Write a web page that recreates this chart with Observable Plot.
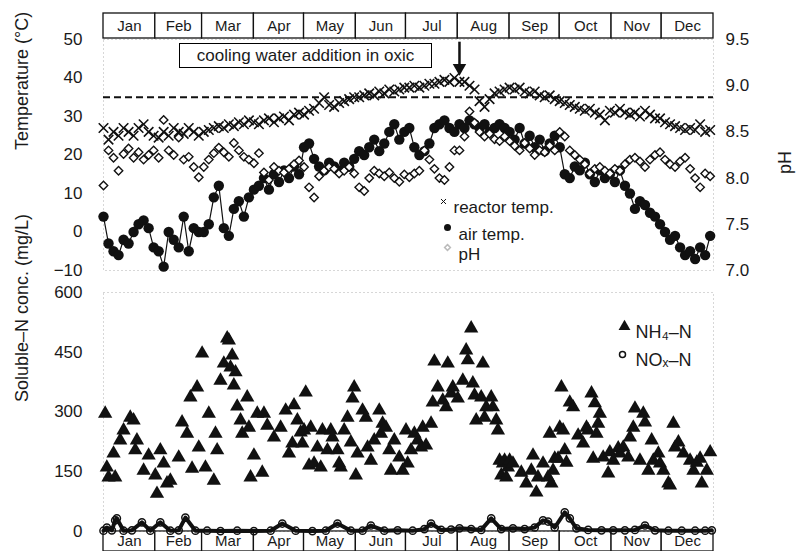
<!DOCTYPE html>
<html>
<head>
<meta charset="utf-8">
<script src="https://cdn.jsdelivr.net/npm/d3@7"></script>
<script src="https://cdn.jsdelivr.net/npm/@observablehq/plot@0.6"></script>
<style>
  html, body { margin: 0; padding: 0; background: white; }
  #chart { position: relative; width: 798px; height: 551px; overflow: hidden; background: white;
           font-family: "Liberation Sans", Arial, sans-serif; color: #1a1a1a; }
  #chart svg { position: absolute; left: 0; }
  .note { position: absolute; left: 179px; top: 43px; width: 253px; height: 25px; box-sizing: border-box;
          border: 1.3px solid #000; font-size: 17px; line-height: 23px; text-align: center; background: white; }
</style>
</head>
<body>
<div id="chart"></div>
<script>
// ---------- data ----------
const monthNames = ["Jan","Feb","Mar","Apr","May","Jun","Jul","Aug","Sep","Oct","Nov","Dec"];
const monthStarts = [0,31,59,90,120,151,181,212,243,273,304,334,365];

// daily series sampled every 3rd day (day 0 .. 363)
const sampleDays = d3.range(0, 366, 3);

const reactorTemp = [
  27,24,26,25,27,26,25,27,28,26,25,            // Jan
  24.5,26,25,27,26,25.5,27,26,25,              // Feb
  26,26.5,27,27.5,27,28,27.5,28.5,28,29,28.5,  // Mar
  28,29,29.5,28.5,29.5,30,29,30.5,31,30.5,     // Apr
  31.5,32,33.5,35,33,32.5,33.5,34,34.5,35,     // May
  35,35.5,36,35.5,36.5,36,37,36.5,37,37.5,     // Jun
  37.5,38,37.5,38,38.5,38.5,39,39.5,39,40,     // Jul
  39,39,38,37,34,32.5,34.5,36,36.5,37,         // Aug
  37.5,37,37.5,36.5,36,36.5,35.5,35,35.5,34.5, // Sep
  34,33.5,33,32.5,32,31.5,32,31,30.5,29,       // Oct
  31.5,31,32,31,30.5,31,30,31.5,30.5,29.5,     // Nov
  29.5,28.5,28,27.5,27,26.5,27,26.5,28,26,26.5 // Dec
];

const airTemp = [
  4,-3,-5,-6,-2,-3,0,2,3,1,-4,
  -5,-9,0,-2,-4,4,-5,1,0,
  0,2,9,12,1,-1,6,8,4,9,11,
  12,14,11,15,13,16,14,17,15,22,
  23,19,17,16,18,17,16,18,17,19,
  21,20,22,24,21,23,26,28,24,26,
  27,22,20,21,23,27,28,29,27,26,
  28,27,29,28,27,28,26,27,28,27,
  26,24,27,23,25,22,24,21,23,25,
  22,15,14,17,16,18,15,13,16,14,
  15,13,16,12,10,6,8,7,5,4,
  2,0,-2,-1,-4,-6,-5,-7,-4,-6,-1
];

const pHValues = [
  7.92,8.3,8.22,8.08,8.26,8.32,8.22,8.28,8.2,8.25,8.3,
  8.22,8.63,8.3,8.25,8.44,8.2,8.23,8.12,8.01,
  8.12,8.2,8.27,8.33,8.28,8.23,8.38,8.3,8.23,8.2,8.16,
  8.27,8.06,7.98,8.12,8.08,8.06,8.1,8.15,8.19,8.12,
  7.9,7.79,8.02,8.08,8.12,8.1,8.05,8.08,8.12,8.05,
  7.9,7.86,8.0,8.08,8.05,8.02,8.06,8.0,7.96,8.04,
  8.01,8.05,8.08,8.3,8.2,8.1,8.0,7.98,8.12,8.3,
  8.3,8.45,8.72,8.6,8.5,8.45,8.48,8.42,8.4,8.45,
  8.4,8.35,8.3,8.38,8.32,8.25,8.3,8.28,8.35,8.3,
  8.5,8.45,8.3,8.25,8.2,8.15,8.05,8.1,8.12,8.08,
  8.05,8.1,8.08,8.15,8.2,8.22,8.18,8.12,8.2,8.25,
  8.28,8.2,8.15,8.12,8.18,8.22,8.1,8.0,7.9,8.05,8.02
];

const setpointTemp = 35;

const nh4Days = [
  1,2,3,6,7,10,12,16,18,19, 20,24,27,31,32,34,36,38,40,45,
  47,50,52,53,56,57,59,61,63,66, 67,68,70,72,74,75,76,77,78,79,
  80,82,83,86,87,88,90,92,95,96, 98,102,106,109,111,113,114,116,118,119,
  120,121,123,124,126,128,130,131,134,136, 137,140,141,142,144,146,148,149,150,151,
  152,155,157,158,160,162,165,166,167,169, 171,172,174,177,179,181,182,184,186,188,
  190,191,193,196,197,198,200,203,205,206, 208,209,212,215,217,218,220,221,222,223,
  226,227,228,229,232,233,235,236,237,238, 239,240,241,242,243,245,250,253,256,257,
  259,260,263,266,267,268,269,270,272,273, 274,275,276,277,279,281,284,287,289,290,
  292,293,294,295,296,297,299,302,303,305, 308,309,311,314,315,317,318,321,323,324,
  326,328,329,332,333,335,338,339,341,342, 344,347,351,353,355,357,358,361,363
];
const nh4Values = [
  296,161,136,196,136,229,254,286,279,204, 229,153,191,141,95,204,171,121,128,186,
  274,246,337,158,362,211,447,161,296,128, 246,204,379,422,485,480,412,442,367,400,
  314,279,246,337,261,136,191,296,148,296, 266,236,261,304,196,221,317,279,249,221,
  254,349,166,261,171,211,161,254,204,254, 236,204,171,161,254,286,224,334,362,141,
  196,304,286,211,178,229,304,246,271,261, 204,153,229,186,153,254,171,204,246,229,
  211,261,216,271,324,427,362,329,312,422, 347,362,334,379,455,430,510,372,342,279,
  337,422,286,312,337,312,279,254,178,141, 171,178,136,161,178,171,148,121,153,191,
  98,136,171,136,246,121,153,183,183,261, 362,254,204,173,324,312,241,221,261,254,
  347,183,322,246,271,296,186,146,199,178, 209,196,211,186,236,261,309,178,296,274,
  153,229,178,196,171,153,121,116,271,211, 224,196,178,153,173,183,121,153,199
];

const noxDays = [
  0,2,5,7,8,12,17,23,28,34, 40,45,49,55,62,70,80,90,100,107,
  115,125,133,140,148,155,160,168,176,185, 192,196,202,208,213,220,226,232,238,245,
  252,258,263,266,270,276,279,283,290,298, 305,312,318,324,330,338,346,354,360,364
];
const noxValues = [
  2,10,3,28,33,2,3,23,2,23, 2,3,35,2,2,1,2,1,2,20,
  2,1,2,20,2,2,15,2,3,2, 6,20,4,5,8,6,4,33,6,8,
  6,10,28,25,10,48,33,8,4,3, 3,3,4,15,3,2,2,2,2,3
];

const tempTicks = [-10,0,10,20,30,40,50];
const pHTicks = [7.0,7.5,8.0,8.5,9.0,9.5];
const nTicks = [0,150,300,450,600];
const arrowNote = {day: 213, top: 49.3, tip: 42.6};

// ---------- tables ----------
const months = monthNames.map((name, i) => ({name, start: monthStarts[i], end: monthStarts[i + 1]}));
const topRows = sampleDays.map((day, i) => ({day, reactor: reactorTemp[i], air: airTemp[i], ph: pHValues[i]}));
const nh4Rows = nh4Days.map((day, i) => ({day, v: nh4Values[i]}));
const noxRows = noxDays.map((day, i) => ({day, v: noxValues[i]}));
const phToTemp = p => (p - 7) * 24 - 10;   // right (pH) axis onto the temperature scale

const FONT = "'Liberation Sans', Arial, sans-serif";
const baseStyle = {background: "transparent", overflow: "visible", fontFamily: FONT, color: "#1a1a1a"};
const W = 798, ML = 103, MR = 85;
const chart = document.getElementById("chart");
function place(svg, top) { svg.style.top = top + "px"; chart.appendChild(svg); }

// ---------- month strips ----------
function monthStrip(height, mt, mb) {
  return Plot.plot({
    width: W, height, marginLeft: ML, marginRight: MR, marginTop: mt, marginBottom: mb,
    style: baseStyle,
    x: {domain: [0, 365], axis: null},
    marks: [
      Plot.rect(months, {x1: "start", x2: "end", fill: "white", stroke: "#111", strokeWidth: 1.3}),
      Plot.text(months, {x: d => (d.start + d.end) / 2, text: "name", frameAnchor: "middle", fontSize: 15})
    ]
  });
}
place(monthStrip(27, 1, 1), 12);
place(monthStrip(22, 1, 1), 530);

// ---------- top panel ----------
const topPanel = Plot.plot({
  width: W, height: 255, marginLeft: ML, marginRight: MR, marginTop: 9, marginBottom: 15,
  style: baseStyle,
  x: {domain: [0, 365], axis: null},
  y: {domain: [-10, 50], axis: null},
  marks: [
    Plot.frame({stroke: "#999", strokeDasharray: "1,3", strokeWidth: 0.8}),
    Plot.ruleY([setpointTemp], {stroke: "#111", strokeWidth: 2, strokeDasharray: "7,4"}),
    Plot.line(topRows, {x: "day", y: "air", stroke: "#111", strokeWidth: 1.2}),
    Plot.dot(topRows, {x: "day", y: "air", r: 5.2, fill: "#111"}),
    Plot.dot(topRows, {x: "day", y: "reactor", symbol: "times", r: 4.4, stroke: "#111", strokeWidth: 1.6}),
    Plot.dot(topRows, {x: "day", y: d => phToTemp(d.ph), symbol: "diamond2", r: 3.8, stroke: "#111", fill: "white", strokeWidth: 1.4}),
    Plot.axisY({anchor: "left", ticks: tempTicks, tickSize: 0, tickPadding: 21, fontSize: 17, label: null}),
    Plot.axisY({anchor: "right", ticks: pHTicks.map(phToTemp), tickSize: 0, tickPadding: 12, fontSize: 17, label: null,
                tickFormat: t => ((t + 10) / 24 + 7).toFixed(1)}),
    Plot.text(["Temperature (°C)"], {text: d => d, frameAnchor: "left", rotate: -90, dx: -81, dy: -5, fontSize: 18}),
    Plot.text(["pH"], {text: d => d, frameAnchor: "right", rotate: -90, dx: 72, dy: -4, fontSize: 18}),
    // arrow
    Plot.ruleX([arrowNote], {x: "day", y1: "top", y2: "tip", stroke: "#111", strokeWidth: 2.5}),
    Plot.dot([arrowNote], {x: "day", y: "tip", symbol: "triangle", rotate: 180, r: 5, fill: "#111"}),
    // legend
    Plot.dot([0], {frameAnchor: "top-left", dx: 340, dy: 162, symbol: "times", r: 2.4, stroke: "#111", strokeWidth: 1}),
    Plot.text(["reactor temp."], {text: d => d, frameAnchor: "top-left", dx: 350, dy: 161, textAnchor: "start", fontSize: 17}),
    Plot.dot([0], {frameAnchor: "top-left", dx: 344, dy: 188, r: 3.5, fill: "#111"}),
    Plot.text(["air temp."], {text: d => d, frameAnchor: "top-left", dx: 355, dy: 188, textAnchor: "start", fontSize: 17}),
    Plot.dot([0], {frameAnchor: "top-left", dx: 344, dy: 208, symbol: "diamond2", r: 2.6, stroke: "#bbb", fill: "white"}),
    Plot.text(["pH"], {text: d => d, frameAnchor: "top-left", dx: 355, dy: 208, textAnchor: "start", fontSize: 17})
  ]
});
place(topPanel, 30);

// ---------- bottom panel ----------
const bottomPanel = Plot.plot({
  width: W, height: 260, marginLeft: ML, marginRight: MR, marginTop: 7, marginBottom: 14,
  style: baseStyle,
  x: {domain: [0, 365], axis: null},
  y: {domain: [0, 600], axis: null},
  marks: [
    Plot.frame({stroke: "#999", strokeDasharray: "1,3", strokeWidth: 0.8}),
    Plot.line(noxRows, {x: "day", y: "v", stroke: "#111", strokeWidth: 4}),
    Plot.dot(noxRows, {x: "day", y: "v", r: 3.6, stroke: "#111", fill: "none", strokeWidth: 1.5}),
    Plot.dot(nh4Rows, {x: "day", y: "v", symbol: "triangle", r: 5.3, fill: "#111"}),
    Plot.axisY({anchor: "left", ticks: nTicks, tickSize: 0, tickPadding: 21, fontSize: 17, label: null}),
    Plot.text(["Soluble\u2013N conc. (mg/L)"], {text: d => d, frameAnchor: "left", rotate: -90, dx: -81, dy: -10, fontSize: 18}),
    // legend
    Plot.dot([0], {frameAnchor: "top-left", dx: 521, dy: 34, symbol: "triangle", r: 4.4, fill: "#111"}),
    Plot.text(["NH\u2084\u2013N"], {text: d => d, frameAnchor: "top-left", dx: 532, dy: 33, textAnchor: "start", fontSize: 18}),
    Plot.dot([0], {frameAnchor: "top-left", dx: 519, dy: 62, r: 3, stroke: "#111", fill: "none"}),
    Plot.text(["NO\u2093\u2013N"], {text: d => d, frameAnchor: "top-left", dx: 532, dy: 61, textAnchor: "start", fontSize: 18})
  ]
});
place(bottomPanel, 285);

// annotation box
const note = document.createElement("div");
note.className = "note";
note.textContent = "cooling water addition in oxic";
chart.appendChild(note);
</script>
</body>
</html>
